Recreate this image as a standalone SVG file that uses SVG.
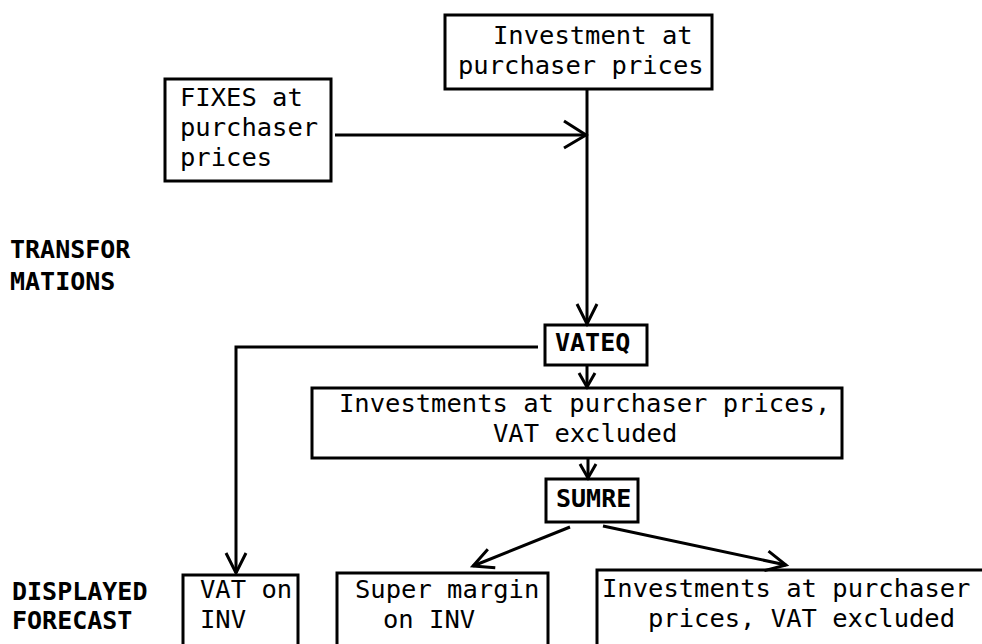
<svg xmlns="http://www.w3.org/2000/svg" width="982" height="644" viewBox="0 0 982 644">
<style>
.box{fill:none;stroke:#000;stroke-width:3;stroke-linejoin:miter}
.t{font-family:"DejaVu Sans Mono","Liberation Mono",monospace;font-size:25.5px;fill:#000}
.b{font-family:"DejaVu Sans Mono","Liberation Mono",monospace;font-size:25px;font-weight:bold;fill:#000}
.c{fill:none;stroke:#000;stroke-width:3}
</style>
<defs>
<marker id="a1" markerUnits="userSpaceOnUse" markerWidth="40" markerHeight="40" viewBox="-30 -20 40 40" refX="0" refY="0" orient="auto">
<path d="M-20,-10 L0,0 L-20,10" fill="none" stroke="#000" stroke-width="3"/>
</marker>
<marker id="a2" markerUnits="userSpaceOnUse" markerWidth="40" markerHeight="40" viewBox="-30 -20 40 40" refX="0" refY="0" orient="auto">
<path d="M-14,-8 L0,0 L-14,8" fill="none" stroke="#000" stroke-width="3"/>
</marker>
<marker id="a3" markerUnits="userSpaceOnUse" markerWidth="40" markerHeight="40" viewBox="-30 -20 40 40" refX="0" refY="0" orient="auto">
<path d="M-22,-14 L0,0 L-22,13" fill="none" stroke="#000" stroke-width="3"/>
</marker>
</defs>
<rect width="982" height="644" fill="#fff"/>

<g id="labels">
<text class="b" x="10" y="258">TRANSFOR</text>
<text class="b" x="10" y="290">MATIONS</text>
<text class="b" x="12" y="600">DISPLAYED</text>
<text class="b" x="12" y="629">FORECAST</text>
</g>

<g id="connectors">
<line class="c" x1="335" y1="135" x2="586" y2="135" marker-end="url(#a3)"/>
<line class="c" x1="587" y1="89" x2="587" y2="324" marker-end="url(#a1)"/>
<polyline class="c" points="538,347 236,347 236,573" marker-end="url(#a1)"/>
<line class="c" x1="587" y1="365" x2="587" y2="387" marker-end="url(#a2)"/>
<line class="c" x1="588" y1="458" x2="588" y2="478" marker-end="url(#a2)"/>
<line class="c" x1="570" y1="527" x2="473" y2="566" marker-end="url(#a1)"/>
<line class="c" x1="603" y1="526" x2="786" y2="565" marker-end="url(#a1)"/>
</g>

<g id="investment-top">
<rect class="box" x="445" y="15" width="267" height="74"/>
<text class="t" x="493" y="44">Investment at</text>
<text class="t" x="458" y="74">purchaser prices</text>
</g>

<g id="fixes">
<rect class="box" x="165" y="79" width="166" height="102"/>
<text class="t" x="180" y="106">FIXES at</text>
<text class="t" x="180" y="136">purchaser</text>
<text class="t" x="180" y="166">prices</text>
</g>

<g id="vateq">
<rect class="box" x="545" y="325" width="102" height="40"/>
<text class="b" x="555" y="351">VATEQ</text>
</g>

<g id="investments-excl">
<rect class="box" x="312" y="388" width="530" height="70"/>
<text class="t" x="339" y="412">Investments at purchaser prices,</text>
<text class="t" x="493" y="442">VAT excluded</text>
</g>

<g id="sumre">
<rect class="box" x="546" y="479" width="92" height="43"/>
<text class="b" x="556" y="507">SUMRE</text>
</g>

<g id="vat-on-inv">
<path class="box" d="M183,650 V575 H298 V650"/>
<text class="t" x="200" y="598">VAT on</text>
<text class="t" x="200" y="628">INV</text>
</g>

<g id="super-margin">
<path class="box" d="M337,650 V573 H548 V650"/>
<text class="t" x="355" y="598">Super margin</text>
<text class="t" x="383" y="628">on INV</text>
</g>

<g id="investments-displayed">
<path class="box" d="M597,650 V570 H990"/>
<text class="t" x="602" y="597">Investments at purchaser</text>
<text class="t" x="648" y="627">prices, VAT excluded</text>
</g>
</svg>
